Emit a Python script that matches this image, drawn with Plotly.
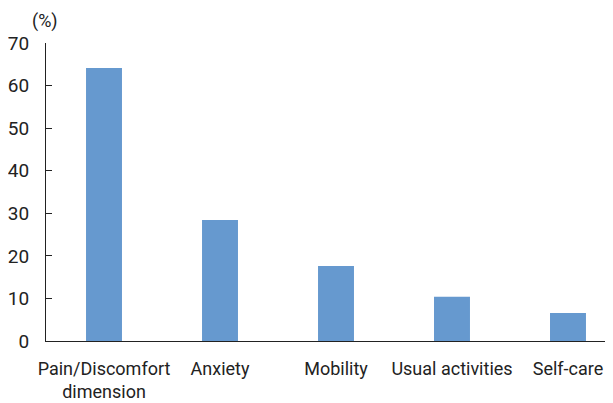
import plotly.graph_objects as go

categories = ["Pain/Discomfort<br>dimension", "Anxiety", "Mobility", "Usual activities", "Self-care"]
values = [64.1, 28.4, 17.6, 10.4, 6.6]
y_ticks = [0, 10, 20, 30, 40, 50, 60, 70]

font_family = "Roboto, Arial, sans-serif"

fig = go.Figure()
fig.add_trace(go.Bar(
    x=categories,
    y=values,
    width=0.31,
    marker=dict(color="#6699CF", line=dict(width=0)),
))

# page body has an 8px default margin, so the figure is sized/offset to compensate
fig.update_layout(
    width=605,
    height=395,
    margin=dict(l=38, r=0, t=35, b=62),
    plot_bgcolor="white",
    paper_bgcolor="white",
    showlegend=False,
    font=dict(family=font_family, size=18, color="#222222"),
)

fig.update_xaxes(
    type="category",
    range=[-0.5, 4.388],
    showline=True,
    linecolor="#222222",
    linewidth=1.2,
    ticks="",
    showgrid=False,
    tickfont=dict(family=font_family, size=18, color="#222222"),
    ticklabelstandoff=11,
)

fig.update_yaxes(
    range=[0, 70],
    tickvals=y_ticks,
    ticktext=[str(v) for v in y_ticks],
    showline=True,
    linecolor="#222222",
    linewidth=1.2,
    ticks="inside",
    ticklen=6,
    tickcolor="#222222",
    showgrid=False,
    zeroline=False,
    tickfont=dict(family=font_family, size=19, color="#222222"),
    ticklabelstandoff=12,
)

fig.add_annotation(
    text="(%)",
    xref="paper", yref="paper",
    x=-0.002, y=1.0,
    xanchor="center", yanchor="bottom",
    yshift=9,
    showarrow=False,
    font=dict(family=font_family, size=18, color="#222222"),
)

fig.write_html("out.html")
